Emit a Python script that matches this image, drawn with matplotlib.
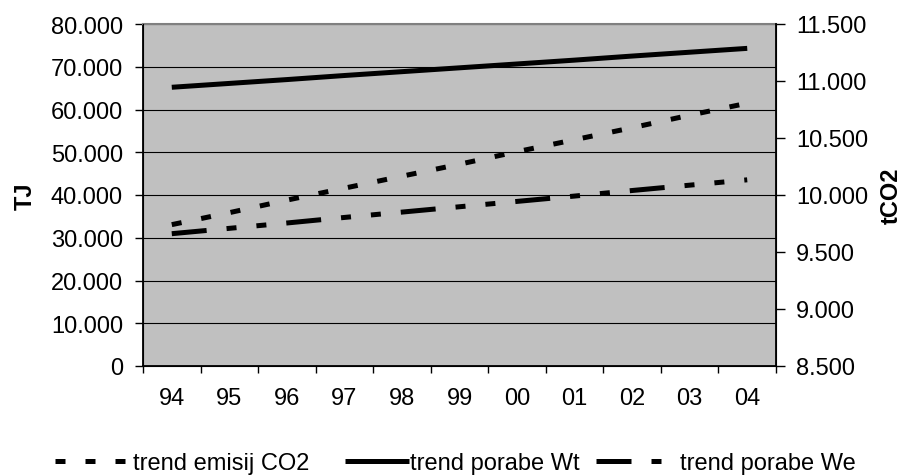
import matplotlib.pyplot as plt
from matplotlib.ticker import FuncFormatter, MultipleLocator

plt.rcParams["font.family"] = ["Liberation Sans", "DejaVu Sans"]

# podatki (odčitano s slike)
years = ["94", "95", "96", "97", "98", "99", "00", "01", "02", "03", "04"]
trend_wt = [65200, 66100, 67000, 67950, 68850, 69750, 70650, 71550, 72500, 73400, 74300]
trend_we = [30950, 32200, 33450, 34750, 36000, 37250, 38500, 39750, 41050, 42300, 43550]
trend_co2 = [9740, 9845, 9955, 10060, 10165, 10270, 10380, 10485, 10590, 10700, 10805]
labels = ["trend emisij CO2", "trend porabe Wt", "trend porabe We"]


def eu_fmt(v, pos):
    return f"{int(round(v)):,}".replace(",", ".")


W, H = 905, 477
fs = 17
fig = plt.figure(figsize=(W / 100, H / 100), dpi=100)
ax = fig.add_axes([143 / W, 1 - 367 / H, (776 - 143) / W, (367 - 25) / H])
ax.set_facecolor("#c0c0c0")
ax.set_axisbelow(True)

x = list(range(len(years)))
lw = 3.6
l_wt, = ax.plot(x, trend_wt, color="black", lw=lw, solid_capstyle="butt")
l_we, = ax.plot(x, trend_we, color="black", lw=lw, dashes=(7, 4, 2, 4, 2, 4),
                dash_capstyle="butt")

ax.set_xlim(-0.5, len(years) - 0.5)
ax.set_ylim(0, 80000)
ax.yaxis.set_major_locator(MultipleLocator(10000))
ax.yaxis.set_major_formatter(FuncFormatter(eu_fmt))
ax.grid(axis="y", color="black", lw=0.8)

ax.set_xticks(x)
ax.set_xticklabels(years)
ax.set_xticks([i - 0.5 for i in range(len(years) + 1)], minor=True)
ax.tick_params(axis="x", which="major", length=0, pad=15, labelsize=fs)
ax.tick_params(axis="x", which="minor", length=5, width=1, direction="out")
ax.tick_params(axis="y", length=5.8, width=1, pad=8.6, labelsize=fs)

ax.spines["top"].set_color("#808080")
ax.spines["top"].set_linewidth(1.5)
for s in ["left", "bottom"]:
    ax.spines[s].set_linewidth(1.3)

ax.set_ylabel("TJ", fontsize=fs, fontweight="bold", labelpad=10)

ax2 = ax.twinx()
l_co2, = ax2.plot(x, trend_co2, color="black", lw=lw, dashes=(2, 4), dash_capstyle="butt")
ax2.set_ylim(8500, 11500)
ax2.yaxis.set_major_locator(MultipleLocator(500))
ax2.yaxis.set_major_formatter(FuncFormatter(eu_fmt))
ax2.tick_params(axis="y", length=6.5, width=1, pad=8, labelsize=fs)
ax2.spines["right"].set_linewidth(1.3)
ax2.spines["top"].set_visible(False)
ax2.set_ylabel("tCO2", fontsize=fs, fontweight="bold", labelpad=8)

# legenda: tri vnosi enake širine, kot v Excelu
ly = 1 - 464 / H
for handle, text, x0, hl, tp in [(l_co2, labels[0], 55, 3.0, 0.3),
                                 (l_wt, labels[1], 345, 2.7, 0.05),
                                 (l_we, labels[2], 596, 2.8, 0.75)]:
    fig.legend([handle], [text], loc="center left", bbox_to_anchor=(x0 / W, ly),
               frameon=False, fontsize=fs, handlelength=hl, handletextpad=tp,
               borderpad=0, borderaxespad=0)

fig.savefig("out.png", dpi=100)
